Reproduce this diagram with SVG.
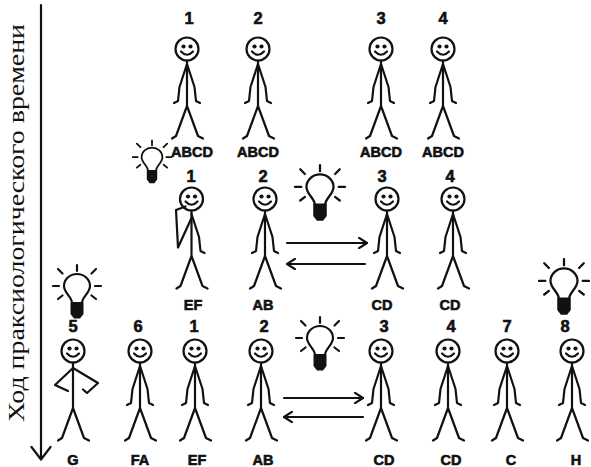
<svg xmlns="http://www.w3.org/2000/svg" xmlns:xlink="http://www.w3.org/1999/xlink" width="591" height="467" viewBox="0 0 591 467">
  <style>
    .ln { fill: none; stroke: #111; stroke-width: 2.2; stroke-linecap: round; stroke-linejoin: round; }
    .num { font-family: "Liberation Sans", Arial, sans-serif; font-weight: bold; font-size: 16.5px; fill: #111; stroke: #111; stroke-width: 0.6; text-anchor: middle; }
    .lbl { font-family: "Liberation Sans", Arial, sans-serif; font-weight: bold; font-size: 14.5px; fill: #111; stroke: #111; stroke-width: 0.6; text-anchor: middle; }
    .axis-title { font-family: "Liberation Serif", "Times New Roman", serif; font-size: 23px; fill: #111; text-anchor: middle; }
  </style>
  <defs>
    <!-- head: outline, eyes and smile -->
    <g id="head">
      <circle class="ln" cx="0" cy="0" r="11.5"/>
      <circle cx="-3.5" cy="-2.5" r="2.1" fill="#111"/>
      <circle cx="3.5" cy="-2.5" r="2.1" fill="#111"/>
      <path class="ln" d="M -6,2.5 Q 0,9 6,2.5"/>
    </g>
    <!-- trunk and legs -->
    <path id="trunk" class="ln" d="M 0,11.5 V 57 M -15,89.5 L -11,87 L 0,57 L 11,87 L 16,89.5"/>
    <!-- arms hanging down -->
    <path id="arms" class="ln" d="M -13,54 L -9,52 L -7.5,38 L 0,15 L 7.5,38 L 9,52 L 13,54"/>
    <g id="figure">
      <use xlink:href="#head"/>
      <use xlink:href="#trunk"/>
      <use xlink:href="#arms"/>
    </g>
    <!-- light bulb, origin at the centre of the glass -->
    <g id="bulb">
      <path class="ln" d="M -5,16 C -5,10 -13,6 -13,-1 A 13 12 0 0 1 13,-1 C 13,6 5,10 5,16 Z"/>
      <path d="M -6.5,15.5 H 6.5 V 27 L 3,31.5 H -3 L -6.5,27 Z" fill="#111"/>
      <path class="ln" d="M 0,-22 V -16 M -19,-18 L -14.5,-13.5 M 19,-18 L 14.5,-13.5 M -24,-1 H -18 M 24,-1 H 18 M -19,12 L -14.5,8.5 M 19,12 L 14.5,8.5"/>
    </g>
    <marker id="open-head" viewBox="0 0 10 12" refX="9" refY="6" markerWidth="10" markerHeight="12" markerUnits="userSpaceOnUse" orient="auto">
      <path d="M 1,0.8 L 9,6 L 1,11.2" fill="none" stroke="#111" stroke-width="2.1" stroke-linecap="round" stroke-linejoin="round"/>
    </marker>
  </defs>

  <rect width="591" height="467" fill="#fff"/>

  <!-- time axis -->
  <g id="time-axis">
    <path class="ln" d="M 41,5 V 459 M 31.5,447 L 41,459.5 L 50.5,447"/>
    <text class="axis-title" transform="translate(24,223) rotate(-90)" textLength="398" lengthAdjust="spacingAndGlyphs">Ход праксиологического времени</text>
  </g>

  <!-- top row -->
  <g id="top-1">
    <text class="num" x="189" y="23.5">1</text>
    <use xlink:href="#figure" transform="translate(187,49)"/>
    <text class="lbl" x="192" y="157">ABCD</text>
  </g>
  <g id="top-2">
    <text class="num" x="258" y="23.5">2</text>
    <use xlink:href="#figure" transform="translate(258,49)"/>
    <text class="lbl" x="258" y="157">ABCD</text>
  </g>
  <g id="top-3">
    <text class="num" x="381" y="23.5">3</text>
    <use xlink:href="#figure" transform="translate(381,49)"/>
    <text class="lbl" x="381" y="157">ABCD</text>
  </g>
  <g id="top-4">
    <text class="num" x="443" y="23.5">4</text>
    <use xlink:href="#figure" transform="translate(443,49)"/>
    <text class="lbl" x="443" y="157">ABCD</text>
  </g>

  <!-- middle row -->
  <g id="mid-1">
    <use xlink:href="#bulb" transform="translate(152,158) scale(0.8)"/>
    <text class="num" x="191" y="182">1</text>
    <g transform="translate(191.5,199)">
      <use xlink:href="#head"/>
      <use xlink:href="#trunk"/>
      <!-- one hand raised to the chin -->
      <path class="ln" d="M 0,19 L -13.5,48.5 L -15.5,11 L -6,7.5 M 0,15 L 7.5,38 L 9,52 L 13,54"/>
    </g>
    <text class="lbl" x="193" y="310">EF</text>
  </g>
  <g id="mid-2">
    <text class="num" x="263" y="182">2</text>
    <use xlink:href="#figure" transform="translate(265,199)"/>
    <text class="lbl" x="263" y="310">AB</text>
  </g>
  <g id="mid-idea">
    <use xlink:href="#bulb" transform="translate(320,188) scale(1.04)"/>
  </g>
  <g id="mid-3">
    <text class="num" x="382" y="182">3</text>
    <use xlink:href="#figure" transform="translate(387,199)"/>
    <text class="lbl" x="382" y="310">CD</text>
  </g>
  <g id="mid-4">
    <text class="num" x="450" y="182">4</text>
    <use xlink:href="#figure" transform="translate(453,199)"/>
    <text class="lbl" x="450" y="310">CD</text>
  </g>

  <!-- bottom row -->
  <g id="bot-5">
    <use xlink:href="#bulb" transform="translate(77,287)"/>
    <text class="num" x="73" y="332">5</text>
    <g transform="translate(73,351)">
      <use xlink:href="#head"/>
      <use xlink:href="#trunk"/>
      <!-- hands on hips -->
      <path class="ln" d="M 0,17 L -18,34 L -5,40 M 0,17 L 25,32 L 14,42 L 10,38.5"/>
    </g>
    <text class="lbl" x="73" y="465">G</text>
  </g>
  <g id="bot-6">
    <text class="num" x="138" y="332">6</text>
    <use xlink:href="#figure" transform="translate(140,351)"/>
    <text class="lbl" x="140" y="465">FA</text>
  </g>
  <g id="bot-1">
    <text class="num" x="194" y="332">1</text>
    <use xlink:href="#figure" transform="translate(195,351)"/>
    <text class="lbl" x="197" y="465">EF</text>
  </g>
  <g id="bot-2">
    <text class="num" x="264" y="332">2</text>
    <use xlink:href="#figure" transform="translate(261,351)"/>
    <text class="lbl" x="263" y="465">AB</text>
  </g>
  <g id="bot-idea">
    <use xlink:href="#bulb" transform="translate(320,339)"/>
  </g>
  <g id="bot-3">
    <text class="num" x="384" y="332">3</text>
    <use xlink:href="#figure" transform="translate(381,351)"/>
    <text class="lbl" x="384" y="465">CD</text>
  </g>
  <g id="bot-4">
    <text class="num" x="451" y="332">4</text>
    <use xlink:href="#figure" transform="translate(448,351)"/>
    <text class="lbl" x="451" y="465">CD</text>
  </g>
  <g id="bot-7">
    <text class="num" x="507" y="332">7</text>
    <use xlink:href="#figure" transform="translate(507,351)"/>
    <text class="lbl" x="511" y="465">C</text>
  </g>
  <g id="bot-8">
    <use xlink:href="#bulb" transform="translate(564,282) scale(1.04)"/>
    <text class="num" x="565" y="332">8</text>
    <use xlink:href="#figure" transform="translate(572,351)"/>
    <text class="lbl" x="576" y="465">H</text>
  </g>

  <!-- exchange arrows between 2 and 3 -->
  <g id="connectors">
    <path class="ln" d="M 287,243 H 367" marker-end="url(#open-head)"/>
    <path class="ln" d="M 365,264 H 287" marker-end="url(#open-head)"/>
    <path class="ln" d="M 284,398 H 363" marker-end="url(#open-head)"/>
    <path class="ln" d="M 363,417 H 284" marker-end="url(#open-head)"/>
  </g>
</svg>
